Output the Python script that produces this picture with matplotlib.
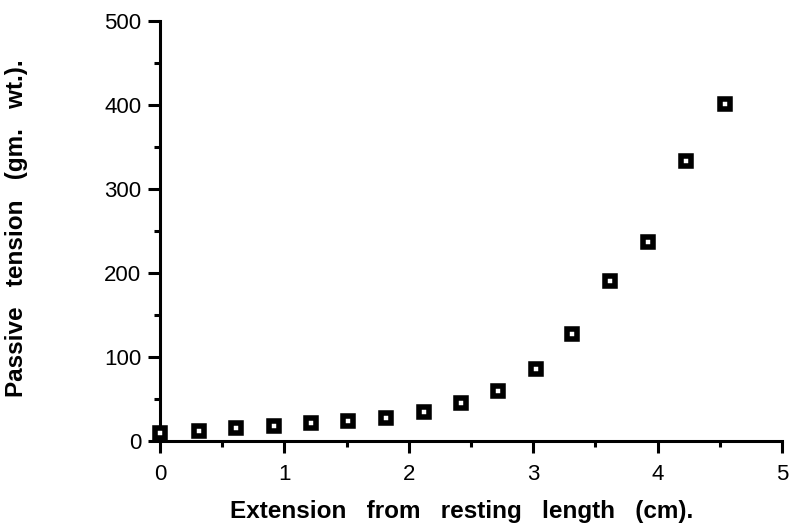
import matplotlib.pyplot as plt
from matplotlib.ticker import MultipleLocator

# extension (cm) and passive tension (gm. wt.)
extension = [0.0, 0.31, 0.61, 0.92, 1.21, 1.51, 1.82, 2.12, 2.42, 2.72,
             3.02, 3.31, 3.62, 3.92, 4.23, 4.54]
tension = [10, 12, 15, 18, 21, 24, 28, 34, 45, 60,
           86, 127, 191, 237, 333, 401]

x_ticks = [0, 1, 2, 3, 4, 5]
y_ticks = [0, 100, 200, 300, 400, 500]

plt.rcParams['font.family'] = ['Liberation Sans', 'DejaVu Sans']

fig = plt.figure(figsize=(7.9, 5.32), dpi=100)
ax = fig.add_axes([0.2025, 0.171, 0.7874, 0.7895])

ax.plot(extension, tension, linestyle='none', marker='s', markersize=7,
        markerfacecolor='white', markeredgecolor='black', markeredgewidth=4,
        clip_on=False, zorder=3)

ax.set_xlim(0, 5)
ax.set_ylim(0, 500)
ax.set_xticks(x_ticks)
ax.set_yticks(y_ticks)
ax.xaxis.set_minor_locator(MultipleLocator(0.5))
ax.yaxis.set_minor_locator(MultipleLocator(50))

for side in ['top', 'right']:
    ax.spines[side].set_visible(False)
for side in ['left', 'bottom']:
    ax.spines[side].set_linewidth(2.2)

ax.tick_params(which='major', direction='out', length=8.5, width=2.2,
               labelsize=16)
ax.tick_params(which='minor', direction='out', length=4.5, width=2.2)
ax.tick_params(axis='x', which='major', pad=8)
ax.tick_params(axis='y', which='major', pad=5)

# axis titles placed where they sit in the original
fig.text(0.584, 0.0376, 'Extension   from   resting   length   (cm).',
         fontsize=17.5, fontweight='bold', ha='center', va='center')
fig.text(0.0215, 0.572, 'Passive   tension   (gm.   wt.).',
         fontsize=17.5, fontweight='bold', ha='center', va='center',
         rotation=90)

fig.savefig('out.png', dpi=100)
